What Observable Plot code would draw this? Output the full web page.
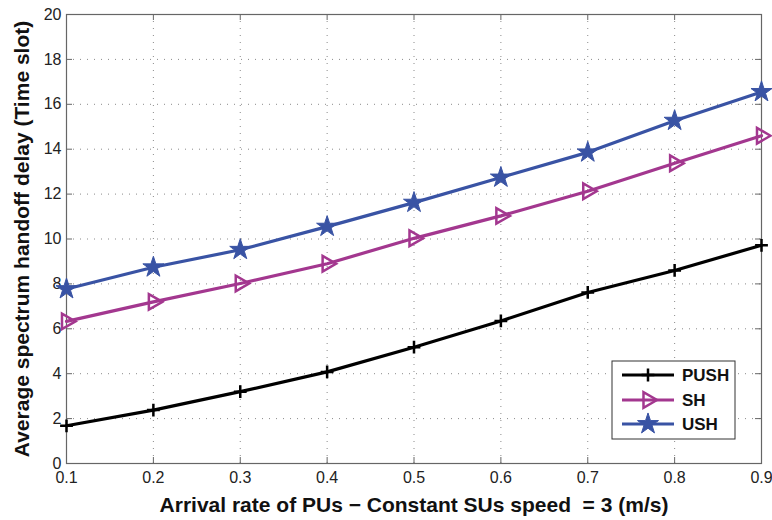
<!DOCTYPE html>
<html><head><meta charset="utf-8">
<script src="https://cdn.jsdelivr.net/npm/d3@7"></script>
<script src="https://cdn.jsdelivr.net/npm/@observablehq/plot@0.6"></script>
<style>
body{margin:0;background:#fff}
#chart svg{white-space:pre}
</style>
</head><body><div id="chart"></div>
<script>
// ---- data ----
const arrivalRate = [0.1, 0.2, 0.3, 0.4, 0.5, 0.6, 0.7, 0.8, 0.9];
const pushDelay = [1.68, 2.38, 3.2, 4.08, 5.18, 6.35, 7.62, 8.6, 9.72];
const shDelay   = [6.33, 7.2, 8.02, 8.9, 10.03, 11.03, 12.13, 13.37, 14.6];
const ushDelay  = [7.77, 8.74, 9.52, 10.55, 11.62, 12.74, 13.86, 15.27, 16.55];
const seriesNames = ["PUSH", "SH", "USH"];
const seriesColors = ["#000000", "#a3378f", "#3953a4"];
const xTicks = [0.1, 0.2, 0.3, 0.4, 0.5, 0.6, 0.7, 0.8, 0.9];
const yTicks = [0, 2, 4, 6, 8, 10, 12, 14, 16, 18, 20];
const xLabel = "Arrival rate of PUs \u2212 Constant SUs speed  = 3 (m/s)";
const yLabel = "Average spectrum handoff delay (Time slot)";

const seriesValues = [pushDelay, shDelay, ushDelay];
const rows = seriesNames.flatMap((s, i) => arrivalRate.map((x, j) => ({series: s, x, y: seriesValues[i][j]})));
const only = s => rows.filter(d => d.series === s);

const W = 772, H = 520, ML = 66, MR = 11, MT = 14, MB = 57;
const innerW = W - ML - MR, innerH = H - MT - MB;
const font = "'Liberation Sans', Arial, Helvetica, sans-serif";
const frameColor = "#666";
const gridStyle = {stroke: "#8a8a8a", strokeOpacity: 1, strokeWidth: 1, strokeDasharray: "1,6"};

const chart = Plot.plot({
  width: W, height: H,
  marginLeft: ML, marginRight: MR, marginTop: MT, marginBottom: MB,
  style: {fontFamily: font, fontSize: "16px", background: "#fff", color: "#222"},
  x: {domain: [0.1, 0.9]},
  y: {domain: [0, 20]},
  color: {domain: seriesNames, range: seriesColors},
  marks: [
    Plot.gridX(xTicks, gridStyle),
    Plot.gridY(yTicks, gridStyle),
    Plot.ruleX(xTicks, {stroke: frameColor, insetTop: innerH - 6}),
    Plot.ruleX(xTicks, {stroke: frameColor, insetBottom: innerH - 6}),
    Plot.ruleY(yTicks, {stroke: frameColor, insetRight: innerW - 6}),
    Plot.ruleY(yTicks, {stroke: frameColor, insetLeft: innerW - 6}),
    Plot.frame({stroke: frameColor, strokeWidth: 1.2}),
    Plot.axisX({ticks: xTicks, tickSize: 0, tickPadding: 8, fontSize: 16, label: null, tickFormat: d => d.toFixed(1)}),
    Plot.axisY({ticks: yTicks, tickSize: 0, tickPadding: 5, fontSize: 16, label: null}),
    Plot.line(rows, {x: "x", y: "y", z: "series", stroke: "series", strokeWidth: 3.2}),
    Plot.dot(only("PUSH"), {x: "x", y: "y", symbol: "plus", r: 4.2, stroke: seriesColors[0], strokeWidth: 2.5}),
    Plot.dot(only("SH"), {x: "x", y: "y", symbol: "triangle", rotate: 90, r: 5.8, stroke: seriesColors[1], fill: "none", strokeWidth: 2.5}),
    Plot.dot(only("USH"), {x: "x", y: "y", symbol: "star", r: 6.6, fill: seriesColors[2], stroke: seriesColors[2], strokeWidth: 1}),
    Plot.text([xLabel], {frameAnchor: "bottom", dy: 42, fontSize: 21, fontWeight: "bold", textAnchor: "middle", lineAnchor: "middle", fill: "#111"}),
    Plot.text([yLabel], {frameAnchor: "left", dx: -44, rotate: -90, fontSize: 21, fontWeight: "bold", textAnchor: "middle", lineAnchor: "middle", fill: "#111"})
  ]
});
document.getElementById("chart").appendChild(chart);

// ---- legend (drawn inside the plot svg) ----
const svg = d3.select(chart);
const lg = svg.append("g").attr("font-family", font).attr("text-anchor", "start");
const bx = ML + innerW - 149, by = MT + 347;
lg.append("rect").attr("x", bx).attr("y", by).attr("width", 123).attr("height", 78)
  .attr("fill", "#fff").attr("stroke", "#333").attr("stroke-width", 1);
const legendSymbols = [
  {type: d3.symbolPlus, size: Math.PI * 4.2 * 4.2, fill: "none", rotate: 0, sw: 2.5},
  {type: d3.symbolTriangle, size: Math.PI * 5.8 * 5.8, fill: "none", rotate: 90, sw: 2.5},
  {type: d3.symbolStar, size: Math.PI * 6.6 * 6.6, fill: seriesColors[2], rotate: 0, sw: 1}
];
const rowY = [14, 39, 63];
seriesNames.forEach((name, i) => {
  const y = by + rowY[i];
  lg.append("line").attr("x1", bx + 10).attr("x2", bx + 62).attr("y1", y).attr("y2", y)
    .attr("stroke", seriesColors[i]).attr("stroke-width", 3.2);
  const s = legendSymbols[i];
  lg.append("path").attr("d", d3.symbol(s.type, s.size)())
    .attr("transform", `translate(${bx + 36},${y}) rotate(${s.rotate})`)
    .attr("fill", s.fill).attr("stroke", seriesColors[i]).attr("stroke-width", s.sw);
  lg.append("text").attr("x", bx + 70).attr("y", y).attr("dy", "0.35em")
    .attr("text-anchor", "start")
    .attr("font-size", 17).attr("font-weight", "bold").attr("fill", "#111").text(name);
});
</script>
</body></html>
